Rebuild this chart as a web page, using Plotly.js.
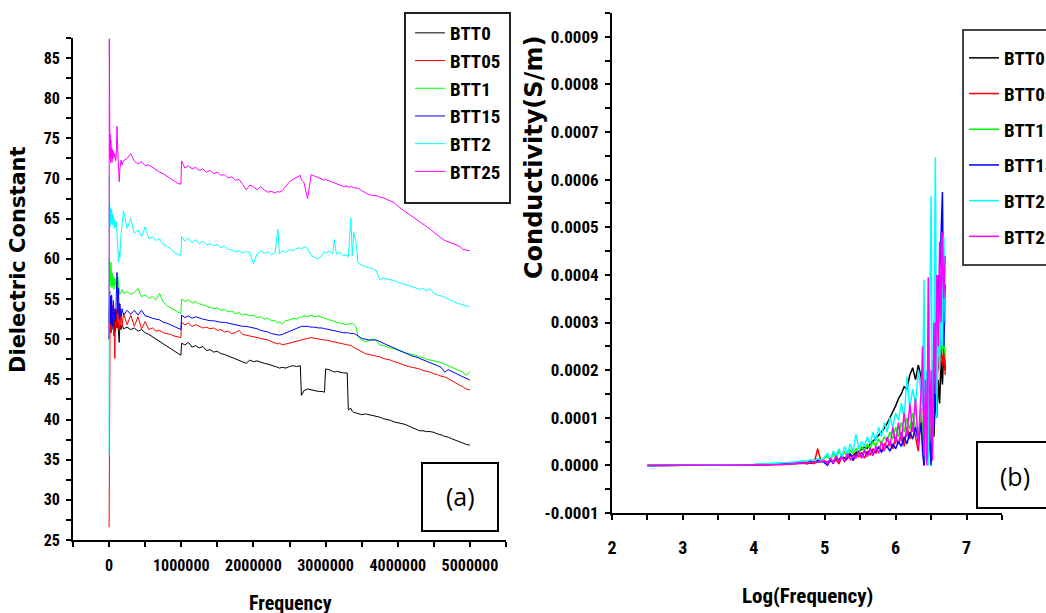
<!DOCTYPE html>
<html><head><meta charset="utf-8">
<script src="https://cdn.plot.ly/plotly-3.0.1.min.js"></script>
<style>html,body{margin:0;padding:0;background:#fff}#chart{width:1046px;height:613px}</style>
</head><body><div id="chart"></div>
<script>
const seriesNames = ['BTT0','BTT05','BTT1','BTT15','BTT2','BTT25'];
const seriesColors = ['#000000','#ff0000','#00ff00','#0000ff','#00ffff','#ff00ff'];

// Panel (a): dielectric constant vs frequency (Hz)
const frequency = [0,3000,6000,9000,12000,15000,20000,25000,30000,35000,
40000,45000,50000,60000,70000,80000,90000,100000,110000,120000,
130000,140000,150000,165000,180000,200000,250000,300000,350000,400000,
450000,500000,550000,600000,650000,700000,750000,800000,850000,900000,
950000,995000,1005000,1050000,1100000,1150000,1200000,1250000,1300000,1350000,
1400000,1450000,1500000,1550000,1600000,1650000,1700000,1750000,1800000,1850000,
1900000,1950000,2000000,2050000,2100000,2150000,2200000,2250000,2300000,2340000,
2360000,2400000,2450000,2500000,2550000,2600000,2650000,2665000,2700000,2750000,
2800000,2850000,2900000,2950000,2985000,3000000,3050000,3100000,3120000,3150000,
3200000,3250000,3300000,3315000,3350000,3370000,3390000,3420000,3450000,3500000,
3550000,3600000,3650000,3700000,3750000,3800000,3850000,3900000,3950000,4000000,
4050000,4100000,4150000,4200000,4250000,4300000,4350000,4400000,4450000,4500000,
4550000,4600000,4650000,4700000,4750000,4800000,4850000,4900000,4950000,5000000];

const dielBTT0 = [52,54,50.5,53.5,51,55,51.5,53,50.8,52.8,
51.2,53.4,51.8,52.6,50.4,52.4,51.0,53.6,51.4,52.2,
51.2,49.6,51.8,51.2,51.8,51.3,51.5,51.2,51.4,51.0,
51.2,50.8,50.6,50.3,50.1,49.8,49.5,49.2,48.9,48.6,
48.3,48.0,49.5,49.3,49.6,49.0,49.2,48.9,49.1,48.6,
48.7,48.4,48.5,48.2,48.1,47.9,47.7,47.6,47.4,47.2,
47.0,47.4,47.2,47.3,47.1,47.0,46.9,46.7,46.6,46.5,
46.4,46.5,46.4,46.6,46.7,46.6,46.7,43.0,43.6,43.8,
43.7,43.6,43.5,43.5,43.4,46.3,46.2,46.0,45.9,46.0,
45.9,45.8,45.8,41.2,41.4,41.0,40.9,40.8,40.7,40.6,
40.7,40.6,40.5,40.4,40.3,40.1,40.0,39.9,39.7,39.6,
39.5,39.4,39.2,39.0,38.8,38.6,38.6,38.5,38.5,38.4,
38.2,38.1,37.9,37.8,37.6,37.4,37.2,37.0,36.9,36.8];

const dielBTT05 = [26.6,35.5,31,52.5,50,54,51.2,53.5,50.8,53.8,
51.5,54.2,52,53.4,51.6,47.6,53.6,51.4,53.8,52.0,
51.2,54.5,51.4,53.4,51.6,53.2,51.8,53.0,51.6,52.8,
51.3,52.2,51.2,51.4,51.0,51.1,50.8,50.7,50.6,50.4,
50.3,50.2,52.1,51.8,52.0,51.6,51.8,51.6,51.4,51.5,
51.3,51.4,51.1,51.2,50.9,51.0,50.7,50.8,51.1,50.6,
50.5,50.4,50.3,50.2,50.1,50.0,49.9,49.7,49.5,49.4,
49.5,49.3,49.4,49.5,49.6,49.7,49.8,49.9,50.0,50.1,
50.2,50.1,50.0,49.9,49.9,49.9,49.8,49.7,49.7,49.6,
49.5,49.4,49.3,49.3,49.2,49.1,49.0,48.9,48.7,48.4,
48.2,48.1,48.0,47.9,47.8,47.6,47.5,47.4,47.2,47.1,
46.9,46.7,46.6,46.5,46.4,46.3,46.1,46.0,45.9,45.7,
45.6,45.4,45.3,45.1,44.8,44.5,44.3,44.1,43.8,43.7];

const dielBTT1 = [50,60.1,57,59.4,56.5,59,56.8,59.6,57.2,58.6,
56.4,58.2,56.6,57.8,56.2,57.6,56.8,57.0,56.0,57.8,
56.4,56.1,55.6,56.0,56.2,55.7,55.9,55.6,55.8,56.3,
55.3,55.5,55.1,55.3,54.9,55.7,54.6,54.2,53.9,53.6,
53.4,53.2,55.0,54.7,54.9,54.5,54.7,54.4,54.3,54.1,
53.9,53.8,53.9,53.6,53.7,53.4,53.5,53.2,53.3,53.0,
53.1,52.9,53.0,52.7,52.8,52.5,52.6,52.3,52.3,52.0,
52.2,51.9,52.3,52.4,52.6,52.5,52.8,52.7,52.9,52.8,
53.0,52.8,52.9,52.7,52.6,52.6,52.4,52.3,52.2,52.1,
52.0,51.9,51.8,51.9,51.9,52.0,51.8,51.6,50.3,49.9,
49.7,49.9,50.0,49.9,49.3,49.2,49.0,48.9,48.8,48.6,
48.5,48.3,48.2,48.1,48.0,47.8,47.7,47.5,47.4,47.3,
47.2,47.1,46.9,46.7,46.6,46.4,46.2,45.9,45.5,46.0];

const dielBTT15 = [50,55,51.5,56,52.5,55.4,52,54.8,51.8,55.5,
52.6,54.2,51.6,54.8,52.4,53.8,52.2,55.5,58.3,53.2,
56.4,52.5,54.4,52.8,53.8,53.0,53.6,53.1,53.6,53.0,
53.6,52.9,52.8,52.6,52.5,52.4,52.1,52.0,51.8,51.6,
51.4,51.2,53.0,52.7,52.9,52.6,52.8,52.6,52.5,52.4,
52.3,52.3,52.2,52.1,52.1,52.0,51.9,51.8,51.7,51.6,
51.6,51.5,51.4,51.3,51.1,51.0,50.9,50.7,50.6,50.5,
50.5,50.6,50.8,51.0,51.2,51.4,51.5,51.6,51.6,51.6,
51.5,51.5,51.4,51.4,51.3,51.3,51.2,51.1,51.1,51.0,
50.9,50.8,50.8,50.8,50.7,50.7,50.7,50.6,50.4,50.1,
50.0,49.9,49.9,49.9,49.7,49.5,49.3,49.1,48.9,48.7,
48.5,48.3,48.1,47.9,47.8,47.6,47.4,47.2,47.1,46.9,
46.7,46.5,45.9,46.2,46.0,45.7,45.5,45.3,45.1,44.9];

const dielBTT2 = [35.6,70.4,63.2,67.0,64.0,66.4,64.2,65.8,64.6,66.2,
64.4,65.6,64.2,65.4,63.8,64.9,64.0,64.6,63.2,61.5,
59.6,61.0,60.2,63.0,64.4,66.0,63.8,65.0,63.2,63.6,
62.8,64.0,62.5,62.7,62.3,62.5,61.8,61.6,61.3,60.8,
60.6,60.4,62.8,62.2,62.6,62.0,62.4,61.9,62.2,61.7,
61.9,61.6,61.8,61.4,61.6,61.2,61.1,60.9,61.0,60.7,
60.9,60.8,59.4,60.6,61.0,60.7,60.9,60.5,60.8,63.7,
60.6,61.0,60.8,61.2,61.0,61.3,61.4,61.2,61.5,61.3,
60.4,60.2,60.0,60.5,60.9,60.7,61.0,60.6,62.4,60.6,
60.8,60.4,60.5,60.2,65.1,60.4,63.3,62.2,59.5,59.2,
59.0,58.9,58.8,58.6,57.4,57.6,57.5,57.4,57.3,57.1,
56.9,56.8,56.7,56.5,56.4,56.2,56.3,56.0,56.3,55.7,
55.5,55.4,55.2,55.0,54.7,54.6,54.4,54.3,54.1,54.0];

const dielBTT25 = [50,87.4,73,76.2,72.4,75.5,72,74.8,72.6,73.8,
72,73.6,72.4,73.4,72.6,73.1,72.2,72.9,76.5,73.5,
71,69.6,71.2,72.3,71.7,72.2,72.5,73.1,72.2,71.8,
72.1,71.6,71.7,71.4,71.0,70.8,70.6,70.3,70.0,69.7,
69.4,69.3,72.2,71.3,71.6,71.2,71.4,71.0,71.2,70.8,
71.0,70.6,70.8,70.4,70.5,70.1,70.2,69.8,69.9,69.3,
68.6,69.2,69.0,68.6,69.0,68.6,68.3,68.4,68.2,68.4,
68.3,68.5,69.0,69.6,69.9,70.1,70.4,69.8,69.5,67.5,
70.5,70.3,70.1,70.0,69.8,69.9,69.7,69.6,69.5,69.4,
69.2,69.0,69.1,68.9,69.0,68.9,68.9,68.8,68.8,68.5,
68.2,68.0,67.9,67.9,67.7,67.6,67.4,67.2,67.0,66.6,
66.2,65.9,65.6,65.3,64.9,64.6,64.3,64.0,63.7,63.3,
62.9,62.6,62.3,62.1,61.9,61.8,61.6,61.2,61.1,61.0];

// Panel (b): conductivity (S/m) vs log10(frequency)
const logFrequency = [2.5,2.8,3.1,3.4,3.7,4.0,4.2,4.4,4.5,4.6,
4.7,4.75,4.8,4.85,4.9,4.95,5.0,5.04,5.08,5.12,
5.16,5.2,5.24,5.28,5.32,5.36,5.4,5.44,5.48,5.52,
5.56,5.6,5.64,5.68,5.72,5.76,5.8,5.84,5.88,5.92,
5.96,6.0,6.04,6.08,6.12,6.16,6.2,6.24,6.28,6.32,
6.36,6.38,6.4,6.42,6.44,6.46,6.48,6.5,6.52,6.54,
6.56,6.58,6.6,6.62,6.64,6.66,6.68,6.7];

const condBTT0 = [0,0,0,0.5e-6,1e-6,1.5e-6,2e-6,3e-6,4e-6,4e-6,
5e-6,6e-6,6e-6,5e-6,7e-6,8e-6,9e-6,6e-6,11e-6,8e-6,
14e-6,12e-6,17e-6,15e-6,19e-6,22e-6,20e-6,27e-6,30e-6,33e-6,
38e-6,36e-6,45e-6,52e-6,57e-6,63e-6,70e-6,78e-6,88e-6,100e-6,
112e-6,125e-6,140e-6,150e-6,165e-6,160e-6,190e-6,205e-6,180e-6,211e-6,
185e-6,150e-6,95e-6,120e-6,60e-6,140e-6,90e-6,30e-6,110e-6,60e-6,
150e-6,100e-6,180e-6,130e-6,220e-6,170e-6,250e-6,200e-6];

const condBTT05 = [0,0,0,0,0.5e-6,1e-6,1.5e-6,2e-6,3e-6,4e-6,
5e-6,3e-6,6e-6,4e-6,35e-6,7e-6,10e-6,2e-6,15e-6,5e-6,
12e-6,3e-6,18e-6,8e-6,14e-6,22e-6,10e-6,25e-6,18e-6,28e-6,
15e-6,30e-6,22e-6,35e-6,25e-6,40e-6,30e-6,45e-6,38e-6,50e-6,
35e-6,60e-6,45e-6,70e-6,40e-6,80e-6,55e-6,90e-6,60e-6,30e-6,
110e-6,60e-6,0,80e-6,20e-6,150e-6,40e-6,10e-6,200e-6,120e-6,
180e-6,150e-6,230e-6,200e-6,250e-6,210e-6,240e-6,190e-6];

const condBTT1 = [0,0,0.5e-6,1e-6,1.5e-6,2e-6,3e-6,4e-6,5e-6,6e-6,
7e-6,8e-6,9e-6,10e-6,12e-6,11e-6,15e-6,20e-6,10e-6,25e-6,
15e-6,30e-6,20e-6,28e-6,18e-6,32e-6,25e-6,35e-6,28e-6,40e-6,
30e-6,45e-6,35e-6,50e-6,40e-6,55e-6,45e-6,60e-6,50e-6,70e-6,
55e-6,80e-6,60e-6,90e-6,70e-6,100e-6,75e-6,110e-6,80e-6,60e-6,
120e-6,70e-6,20e-6,100e-6,40e-6,170e-6,80e-6,30e-6,220e-6,150e-6,
260e-6,200e-6,280e-6,230e-6,270e-6,240e-6,260e-6,230e-6];

const condBTT15 = [0,0,0,0.5e-6,1e-6,1.5e-6,2e-6,3e-6,4e-6,5e-6,
6e-6,7e-6,8e-6,9e-6,10e-6,11e-6,5e-6,0,12e-6,4e-6,
18e-6,8e-6,22e-6,10e-6,15e-6,25e-6,12e-6,20e-6,28e-6,18e-6,
30e-6,22e-6,35e-6,25e-6,30e-6,38e-6,28e-6,35e-6,40e-6,30e-6,
45e-6,35e-6,50e-6,40e-6,60e-6,45e-6,70e-6,55e-6,80e-6,50e-6,
90e-6,30e-6,0,60e-6,10e-6,120e-6,40e-6,0,150e-6,80e-6,
300e-6,200e-6,400e-6,250e-6,480e-6,574e-6,250e-6,380e-6];

const condBTT2 = [0,0,0.5e-6,1e-6,1.5e-6,2e-6,4e-6,5e-6,6e-6,7e-6,
10e-6,8e-6,12e-6,9e-6,14e-6,10e-6,18e-6,25e-6,12e-6,30e-6,
20e-6,35e-6,15e-6,40e-6,25e-6,45e-6,30e-6,65e-6,35e-6,50e-6,
40e-6,60e-6,45e-6,70e-6,50e-6,80e-6,60e-6,90e-6,70e-6,100e-6,
80e-6,110e-6,95e-6,130e-6,100e-6,186e-6,120e-6,160e-6,130e-6,200e-6,
150e-6,120e-6,390e-6,10e-6,200e-6,0,300e-6,565e-6,40e-6,250e-6,
647e-6,100e-6,350e-6,200e-6,420e-6,250e-6,480e-6,300e-6];

const condBTT25 = [0,0,0,0,0.5e-6,1e-6,1.5e-6,2e-6,3e-6,4e-6,
4e-6,5e-6,5e-6,6e-6,7e-6,8e-6,10e-6,3e-6,15e-6,5e-6,
20e-6,8e-6,18e-6,10e-6,25e-6,12e-6,20e-6,15e-6,28e-6,15e-6,
30e-6,18e-6,35e-6,20e-6,40e-6,25e-6,50e-6,30e-6,60e-6,40e-6,
80e-6,45e-6,90e-6,50e-6,110e-6,60e-6,130e-6,70e-6,140e-6,40e-6,
160e-6,250e-6,20e-6,180e-6,0,395e-6,50e-6,200e-6,10e-6,300e-6,
150e-6,400e-6,250e-6,470e-6,300e-6,490e-6,350e-6,440e-6];

// Tick labels
const freqTickVals = [0,1000000,2000000,3000000,4000000,5000000];
const freqTickText = ['0','1000000','2000000','3000000','4000000','5000000'];
const dielTickVals = [25,30,35,40,45,50,55,60,65,70,75,80,85];
const dielTickText = ['25','30','35','40','45','50','55','60','65','70','75','80','85'];
const logTickVals = [2,3,4,5,6,7];
const logTickText = ['2','3','4','5','6','7'];
const condTickVals = [-0.0001,0,0.0001,0.0002,0.0003,0.0004,0.0005,0.0006,0.0007,0.0008,0.0009];
const condTickText = ['-0.0001','0.0000','0.0001','0.0002','0.0003','0.0004','0.0005','0.0006','0.0007','0.0008','0.0009'];

const dielSeries = [dielBTT0, dielBTT05, dielBTT1, dielBTT15, dielBTT2, dielBTT25];
const condSeries = [condBTT0, condBTT05, condBTT1, condBTT15, condBTT2, condBTT25];

const W = 1046, H = 613;
const px = v => v / W;
const py = v => 1 - v / H;

const NARROW = "'Liberation Sans Narrow','Arial Narrow','Nimbus Sans Narrow','Roboto Condensed','DejaVu Sans Condensed','Liberation Sans',sans-serif";
const WIDE = "'DejaVu Sans','Verdana',sans-serif";

const traces = [];
dielSeries.forEach((ys, i) => {
  traces.push({
    type: 'scatter', mode: 'lines', x: frequency, y: ys,
    name: seriesNames[i], xaxis: 'x', yaxis: 'y',
    line: {color: seriesColors[i], width: 1},
    legend: 'legend', legendgroup: 'a' + i
  });
});
condSeries.forEach((ys, i) => {
  traces.push({
    type: 'scatter', mode: 'lines', x: logFrequency, y: ys,
    name: seriesNames[i], xaxis: 'x2', yaxis: 'y2',
    line: {color: seriesColors[i], width: 1.5},
    legend: 'legend2', legendgroup: 'b' + i
  });
});

function axis(extra, fsize) {
  return Object.assign({
    showline: true, linewidth: 2, linecolor: '#000',
    ticks: 'outside', ticklen: 5, tickwidth: 2, tickcolor: '#000',
    showgrid: false, zeroline: false, mirror: false, tickmode: 'array',
    tickfont: {family: NARROW, size: fsize, color: '#000', weight: 'bold'}
  }, extra);
}
function minor(t0, dt) {
  return {tickmode: 'linear', tick0: t0, dtick: dt, ticks: 'outside', ticklen: 5, tickwidth: 2, tickcolor: '#000', showgrid: false};
}

const layout = {
  width: W, height: H,
  margin: {l: 0, r: 0, t: 0, b: 0, autoexpand: false},
  paper_bgcolor: '#fff', plot_bgcolor: '#fff',
  showlegend: true,
  xaxis: axis({domain: [px(73), px(506)], range: [-500000, 5500000], anchor: 'y',
    tickvals: freqTickVals, ticktext: freqTickText, ticklabelstandoff: 5, minor: minor(0, 500000)}, 16),
  yaxis: axis({domain: [py(540), py(38)], range: [25, 87.5], anchor: 'x',
    tickvals: dielTickVals, ticktext: dielTickText, ticklabelstandoff: 3, minor: minor(25, 2.5)}, 16),
  xaxis2: axis({domain: [px(612), px(1002)], range: [2, 7.5], anchor: 'y2',
    tickvals: logTickVals, ticktext: logTickText, ticklabelstandoff: 12, minor: minor(2, 0.5)}, 18),
  yaxis2: axis({domain: [py(513), py(13)], range: [-0.0001, 0.00095], anchor: 'x2',
    tickvals: condTickVals, ticktext: condTickText, ticklabelstandoff: 3, minor: minor(0, 0.00005)}, 17),
  legend: {x: px(410), y: py(14), xanchor: 'left', yanchor: 'top',
    bgcolor: 'rgba(255,255,255,0)', borderwidth: 0, tracegroupgap: 0,
    font: {family: NARROW, size: 19, color: '#000', weight: 'bold'}},
  legend2: {x: px(964), y: py(39), xanchor: 'left', yanchor: 'top',
    bgcolor: 'rgba(255,255,255,0)', borderwidth: 0, tracegroupgap: 8,
    font: {family: NARROW, size: 19, color: '#000', weight: 'bold'}},
  shapes: [
    {type: 'rect', xref: 'paper', yref: 'paper', x0: px(405), x1: px(510), y0: py(203), y1: py(13),
      line: {color: '#222', width: 2}, fillcolor: 'rgba(0,0,0,0)'},
    {type: 'rect', xref: 'paper', yref: 'paper', x0: px(963), x1: px(1075), y0: py(265), y1: py(30),
      line: {color: '#444', width: 2}, fillcolor: 'rgba(0,0,0,0)'},
    {type: 'rect', xref: 'paper', yref: 'paper', x0: px(422), x1: px(498), y0: py(531), y1: py(463),
      line: {color: '#000', width: 2}, fillcolor: 'rgba(0,0,0,0)'},
    {type: 'rect', xref: 'paper', yref: 'paper', x0: px(977), x1: px(1070), y0: py(508), y1: py(442),
      line: {color: '#000', width: 2}, fillcolor: 'rgba(0,0,0,0)'}
  ],
  annotations: [
    {text: 'Dielectric Constant', xref: 'paper', yref: 'paper', x: px(18), y: py(260),
      textangle: -90, showarrow: false, xanchor: 'center', yanchor: 'middle',
      font: {family: WIDE, size: 21, color: '#000', weight: 'bold'}},
    {text: 'Conductivity(S/m)', xref: 'paper', yref: 'paper', x: px(534), y: py(158),
      textangle: -90, showarrow: false, xanchor: 'center', yanchor: 'middle',
      font: {family: WIDE, size: 24, color: '#000', weight: 'bold'}},
    {text: 'Frequency', xref: 'paper', yref: 'paper', x: px(290), y: py(603),
      showarrow: false, xanchor: 'center', yanchor: 'middle',
      font: {family: NARROW, size: 20, color: '#000', weight: 'bold'}},
    {text: 'Log(Frequency)', xref: 'paper', yref: 'paper', x: px(807), y: py(596),
      showarrow: false, xanchor: 'center', yanchor: 'middle',
      font: {family: NARROW, size: 21, color: '#000', weight: 'bold'}},
    {text: '(a)', xref: 'paper', yref: 'paper', x: px(460), y: py(496),
      showarrow: false, xanchor: 'center', yanchor: 'middle',
      font: {family: "'Open Sans','Noto Sans',sans-serif", size: 25, color: '#000'}},
    {text: '(b)', xref: 'paper', yref: 'paper', x: px(1015), y: py(476),
      showarrow: false, xanchor: 'center', yanchor: 'middle',
      font: {family: "'Open Sans','Noto Sans',sans-serif", size: 25, color: '#000'}}
  ]
};

Plotly.newPlot('chart', traces, layout, {staticPlot: true, displayModeBar: false});
</script>
</body></html>
